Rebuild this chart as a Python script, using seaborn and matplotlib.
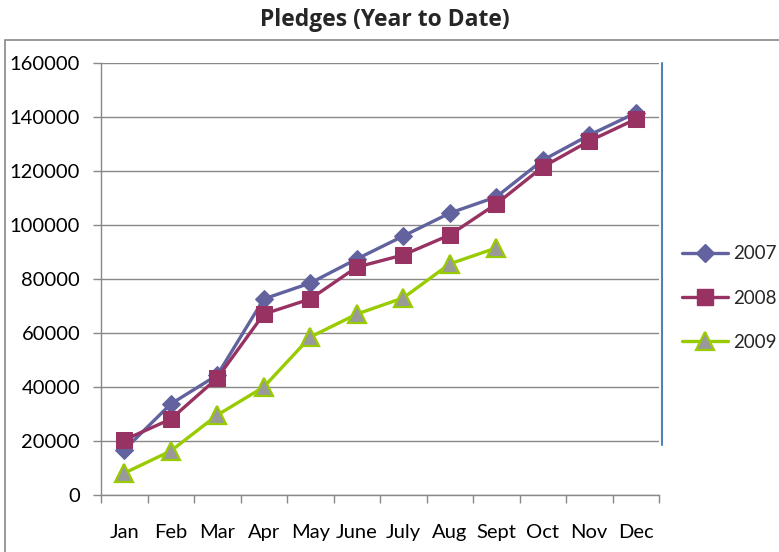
import numpy as np
import pandas as pd
import matplotlib
matplotlib.use("Agg")
import matplotlib.pyplot as plt
from matplotlib.lines import Line2D
from matplotlib.patches import Rectangle
import seaborn as sns

months = ["Jan", "Feb", "Mar", "Apr", "May", "June", "July", "Aug", "Sept", "Oct", "Nov", "Dec"]
pledges_2007 = [16700, 33700, 44400, 72600, 78500, 87400, 95900, 104400, 110400, 124000, 133300, 141500]
pledges_2008 = [20400, 28100, 43300, 67000, 72600, 84400, 88900, 96300, 107800, 121500, 131100, 139200]
pledges_2009 = [8100, 16300, 29600, 40000, 58500, 67000, 73000, 85600, 91500]
y_ticks = [0, 20000, 40000, 60000, 80000, 100000, 120000, 140000, 160000]

sns.set_theme(style="white")
plt.rcParams["font.family"] = ["Lato", "DejaVu Sans"]

W, H = 779, 552
fig = plt.figure(figsize=(W / 100, H / 100), dpi=100)
fig.patch.set_facecolor("white")
ax = fig.add_axes([101 / W, 1 - 495 / H, (659 - 101) / W, (495 - 63) / H])

series = [
    ("2007", pledges_2007, dict(color="#62629F", marker="D", markersize=9.5,
                                markerfacecolor="#62629F", markeredgecolor="#62629F")),
    ("2008", pledges_2008, dict(color="#973262", marker="s", markersize=11,
                                markerfacecolor="#973262", markeredgecolor="#973262")),
    ("2009", pledges_2009, dict(color="#99CC00", marker="^", markersize=13,
                                markerfacecolor="#999999", markeredgecolor="#99CC00",
                                markeredgewidth=1.6)),
]

handles = []
for name, vals, style in series:
    df = pd.DataFrame({"x": np.arange(len(vals)), "y": vals})
    sns.lineplot(data=df, x="x", y="y", ax=ax, linewidth=2.4, zorder=3, **style)
    handles.append(Line2D([], [], linewidth=2.4, **style))

ax.set_xlim(-0.5, 11.5)
ax.set_ylim(0, 160000)
ax.set_yticks(y_ticks)
ax.set_yticklabels([str(v) for v in y_ticks])
ax.set_xticks(np.arange(-0.5, 12, 1), minor=False)
ax.set_xticklabels([])
ax.set_xticks(np.arange(12), minor=True)
ax.set_xticklabels(months, minor=True)
ax.tick_params(axis="x", which="major", direction="out", length=6, color="#888888", width=1, bottom=True)
ax.tick_params(axis="x", which="minor", length=0, pad=21, labelsize=14.5, labelcolor="black")
ax.tick_params(axis="y", direction="out", length=6, color="#888888", width=1, left=True,
               labelsize=14.5, labelcolor="black", pad=9)
ax.set_xlabel("")
ax.set_ylabel("")
ax.grid(axis="y", color="#888888", linewidth=1)
ax.set_axisbelow(True)
for side in ["top", "right"]:
    ax.spines[side].set_visible(False)
for side in ["left", "bottom"]:
    ax.spines[side].set_color("#888888")
    ax.spines[side].set_linewidth(1)

fig.text(385 / W, 1 - 20 / H, "Pledges (Year to Date)", ha="center", va="center",
         fontsize=16.5, fontweight="bold", family=["Open Sans", "DejaVu Sans"])

# chart area border and stray blue line
fig.add_artist(Rectangle((5 / W, -0.05), 1.0, 1 - 40 / H + 0.05, transform=fig.transFigure,
                         fill=False, edgecolor="#888888", linewidth=1.2))
fig.add_artist(Line2D([662 / W, 662 / W], [1 - 63 / H, 1 - 445 / H], transform=fig.transFigure,
                      color="#4F81BD", linewidth=1.5))

fig.legend(handles, ["2007", "2008", "2009"], loc="center left",
           bbox_to_anchor=(682 / W, 1 - 298 / H), frameon=False, fontsize=13.5,
           handlelength=2.45, handletextpad=0.25, labelspacing=1.45, borderpad=0,
           borderaxespad=0)

fig.savefig("out.png", dpi=100)
